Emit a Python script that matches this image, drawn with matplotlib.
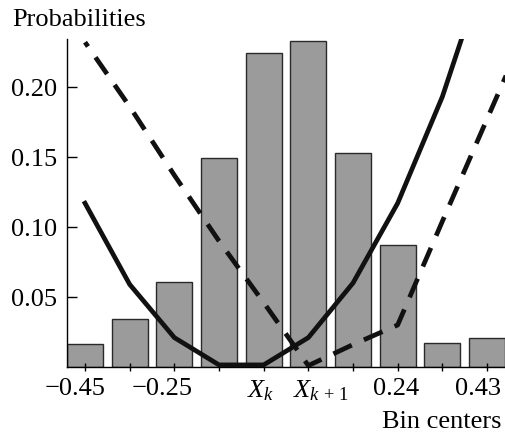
import matplotlib
matplotlib.use("Agg")
import matplotlib.pyplot as plt
import matplotlib.transforms as mtransforms
import numpy as np

plt.rcParams['font.family'] = ['Liberation Serif', 'DejaVu Serif']
plt.rcParams['mathtext.fontset'] = 'custom'
plt.rcParams['mathtext.rm'] = 'Liberation Serif'
plt.rcParams['mathtext.it'] = 'Liberation Serif:italic'

# Data
bins = np.arange(10)
probabilities = [0.0166, 0.034, 0.061, 0.149, 0.224, 0.233, 0.153, 0.087, 0.017, 0.021]
solid_curve = [0.117, 0.059, 0.021, 0.0015, 0.0015, 0.021, 0.060, 0.117, 0.193, 0.289]
dashed_x = np.arange(11)
dashed_curve = [0.232, 0.186, 0.137, 0.090, 0.046, 0.001, 0.016, 0.030, 0.104, 0.177, 0.25]
tick_positions = [0, 2, 4, 5, 7, 9]
tick_labels = ['\u22120.45', '\u22120.25', r'$X_k$', r'$X_{k\,+\,1}$', '0.24', '0.43']
tick_offsets_px = [-10, -12, -3, 12, -2, -9]
yticks = [0.05, 0.10, 0.15, 0.20]
ytick_labels = ['0.05', '0.10', '0.15', '0.20']

fig = plt.figure(figsize=(5.05, 4.34), dpi=100)
ax = fig.add_axes([67/505, 67/434, 438/505, 328/434])

bar_w = 0.807
ax.bar(bins, probabilities, width=bar_w, color='#9b9b9b', edgecolor='#2a2a2a', linewidth=1.0, zorder=1)
lw = 3.4
ax.plot(bins, solid_curve, color='#111111', lw=lw, solid_joinstyle='miter', zorder=3)
ax.plot(dashed_x, dashed_curve, color='#111111', lw=lw, linestyle=(3.2, (4.3, 2.8)), zorder=3)

ax.set_xlim(-bar_w/2, 9 + bar_w/2)
ax.set_ylim(0, 0.2343)

for s in ['top', 'right']:
    ax.spines[s].set_visible(False)
ax.spines['left'].set_linewidth(1.0)
ax.spines['bottom'].set_linewidth(1.0)

ax.set_xticks(bins, minor=False)
ax.set_xticklabels(['' for _ in bins])
ax.tick_params(axis='x', direction='inout', length=6, width=1, pad=5, labelsize=19)
ax.set_yticks(yticks)
ax.set_yticklabels(ytick_labels)
ax.tick_params(axis='y', direction='in', length=7, width=1, pad=7, labelsize=19)

for pos, lab, off in zip(tick_positions, tick_labels, tick_offsets_px):
    tr = ax.get_xaxis_transform() + mtransforms.ScaledTranslation(off/100, 0, fig.dpi_scale_trans)
    ax.text(pos, -0.035, lab, transform=tr, ha='center', va='top', fontsize=19)

fig.text(12/505, (434-26)/434, 'Probabilities', ha='left', va='baseline', fontsize=19)
fig.text(502/505, (434-428)/434, 'Bin centers', ha='right', va='baseline', fontsize=19)

fig.savefig('out.png', dpi=100)
